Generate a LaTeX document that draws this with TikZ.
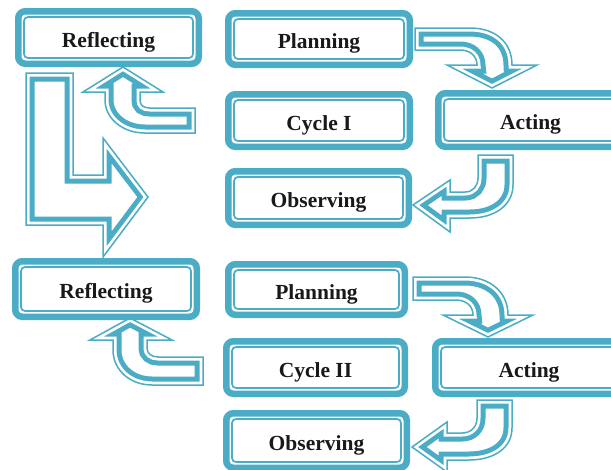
\documentclass[tikz,border=0pt]{standalone}
\usepackage{fontspec}
\setmainfont{Liberation Serif}
\definecolor{aqua}{RGB}{75,172,198}
\tikzset{
  boxnode/.style={draw=aqua, line width=6.5pt, rounded corners=7pt, fill=white,
    inner sep=0pt, font=\fontsize{21.5}{24}\selectfont\bfseries, text=black!90,
    text height=19pt, text depth=0pt,
    path picture={\draw[aqua, line width=1.7pt, rounded corners=4pt]
      ([xshift=5.75pt,yshift=-5.75pt]path picture bounding box.north west) rectangle
      ([xshift=-5.75pt,yshift=5.75pt]path picture bounding box.south east);}},
}
\newcommand{\framedbox}[6]{\node[boxnode, minimum width={(#4-#2-6.5)*1pt},
  minimum height={(#5-#3-6.5)*1pt}] (#1) at ({(#2+#4)/2},{(#3+#5)/2}) {#6};}
\newcommand{\blockarrow}[1]{%
  \fill[white] #1;
  \begin{scope}
    \clip #1;
    \draw[aqua, line width=17pt, line join=miter] #1;
    \draw[white, line width=7pt, line join=miter] #1;
  \end{scope}
  \draw[aqua, line width=1.5pt, line join=miter] #1;}
\begin{document}
\begin{tikzpicture}[x=1pt, y=-1pt]
\useasboundingbox (0,0) rectangle (611,469);
% block arrows
% Planning 1 -> Acting 1
\blockarrow{(415,28) -- (470,28) .. controls (495,28) and (512,42) .. (512,65) -- (537,65) -- (492,88) -- (447,65) -- (477,65) .. controls (477,56) and (470,50) .. (460,50) -- (415,50) -- cycle}
% Planning 2 -> Acting 2
\blockarrow{(413,277) -- (465,277) .. controls (490,277) and (508,292) .. (508,315) -- (533,315) -- (488,337) -- (443,315) -- (473,315) .. controls (473,306) and (466,300) .. (456,300) -- (413,300) -- cycle}
% Acting 1 -> Observing 1
\blockarrow{(478,155) -- (513,155) -- (513,185) .. controls (513,205) and (495,218) .. (470,218) -- (450,218) -- (450,232) -- (413,205) -- (450,180) -- (450,192) -- (465,192) .. controls (473,192) and (478,186) .. (478,178) -- cycle}
% Acting 2 -> Observing 2
\blockarrow{(477,400) -- (512,400) -- (512,428) .. controls (512,448) and (494,460) .. (469,460) -- (447,460) -- (447,472) -- (412,447) -- (447,422) -- (447,433) -- (462,433) .. controls (471,433) and (477,427) .. (477,418) -- cycle}
% Cycle I -> Reflecting 1
\blockarrow{(123,67) -- (163,92) -- (140,92) -- (140,100) .. controls (140,105) and (143,108) .. (150,108) -- (195,108) -- (195,133) -- (145,133) .. controls (122,133) and (105,118) .. (105,100) -- (105,92) -- (83,92) -- cycle}
% Cycle II -> Reflecting 2
\blockarrow{(130,318) -- (172,340) -- (147,340) -- (147,348) .. controls (147,353) and (151,357) .. (158,357) -- (203,357) -- (203,385) -- (152,385) .. controls (130,385) and (113,370) .. (113,350) -- (113,340) -- (90,340) -- cycle}
% Reflecting 1 -> Cycle II (L arrow)
\blockarrow{(26,73) -- (73,73) -- (73,175) -- (103,175) -- (103,138) -- (148,197) -- (103,257) -- (103,225) -- (26,225) -- cycle}
% boxes
\framedbox{r1}{15}{8}{202}{67}{Reflecting}
\framedbox{p1}{225}{10}{413}{68}{Planning}
\framedbox{c1}{225}{91}{413}{150}{Cycle I}
\framedbox{a1}{435}{90}{626}{150}{Acting}
\framedbox{o1}{225}{168}{412}{228}{Observing}
\framedbox{r2}{12}{258}{200}{320}{Reflecting}
\framedbox{p2}{225}{261}{408}{318}{Planning}
\framedbox{c2}{223}{338}{408}{397}{Cycle II}
\framedbox{a2}{432}{338}{626}{397}{Acting}
\framedbox{o2}{223}{410}{410}{471}{Observing}
\end{tikzpicture}
\end{document}
